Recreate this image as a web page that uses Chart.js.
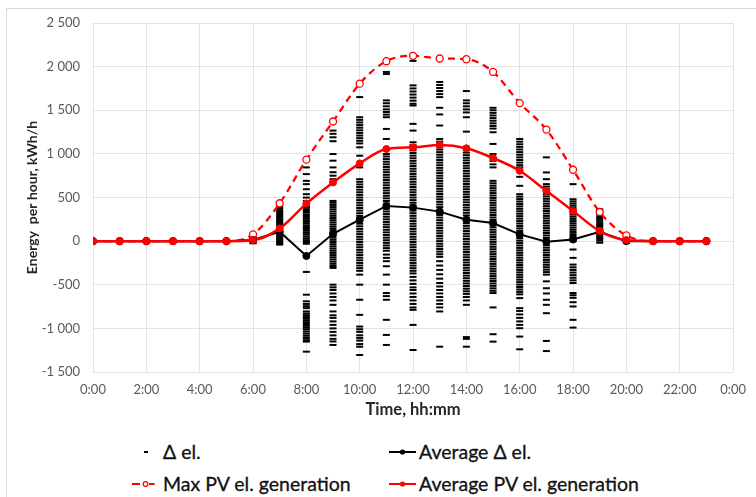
<!DOCTYPE html>
<html>
<head>
<meta charset="utf-8">
<script src="https://cdn.jsdelivr.net/npm/chart.js@4/dist/chart.umd.min.js"></script>
<style>
  html, body { margin:0; padding:0; background:#fff; overflow:hidden; }
  #wrap { position:relative; width:756px; height:497px; font-family:Lato, "Open Sans", sans-serif; }
  #frame { position:absolute; left:6px; top:8px; width:800px; height:600px; border:1px solid #d9d9d9; }
  #chart { position:absolute; left:0; top:0; }
  .lgtxt { position:absolute; height:24px; line-height:24px; font-size:19.5px; color:#111; white-space:nowrap; -webkit-text-stroke:0.3px #111; }
  .lgico { position:absolute; }
</style>
</head>
<body>
<div id="wrap">
  <div id="frame"></div>
  <canvas id="chart" width="756" height="425"></canvas>

  <svg class="lgico" style="left:140px;top:440px" width="12" height="24"><line x1="4" y1="12" x2="8" y2="12" stroke="#000" stroke-width="2"/></svg>
  <div class="lgtxt" style="left:163px;top:440px">Δ el.</div>

  <svg class="lgico" style="left:386px;top:440px" width="34" height="24"><line x1="3" y1="12" x2="30" y2="12" stroke="#000" stroke-width="2"/><circle cx="16.5" cy="12" r="2.6" fill="#000"/></svg>
  <div class="lgtxt" style="left:419px;top:440px">Average Δ el.</div>

  <svg class="lgico" style="left:128px;top:472px" width="30" height="24"><line x1="4" y1="12" x2="12" y2="12" stroke="#f00" stroke-width="2"/><circle cx="17.5" cy="12" r="2.3" fill="#fff" stroke="#f00" stroke-width="1.2"/><line x1="21" y1="12" x2="26.5" y2="12" stroke="#f00" stroke-width="2"/></svg>
  <div class="lgtxt" style="left:163px;top:472px">Max PV el. generation</div>

  <svg class="lgico" style="left:386px;top:472px" width="34" height="24"><line x1="3" y1="12" x2="30" y2="12" stroke="#f00" stroke-width="2"/><circle cx="16.5" cy="12" r="2.6" fill="#f00"/></svg>
  <div class="lgtxt" style="left:419px;top:472px">Average PV el. generation</div>
</div>
<script>
// hours of the day
const hours = [0,1,2,3,4,5,6,7,8,9,10,11,12,13,14,15,16,17,18,19,20,21,22,23];

const maxPV = [0,0,0,0,0,0, 78,434,934,1371,1805,2062,2124,2093,2085,1939,1582,1279,818,334,65, 0,0,0];
const avgPV = [0,0,0,0,0,0, 10,146,430,672,891,1056,1075,1102,1064,952,806,576,346,115,12, 0,0,0];
const avgDelta = [0,0,0,0,0,0, 12,108,-170,84,246,403,384,338,246,207,77,-8,19,108,0, 0,0,0];

// individual daily delta values, per hour
const d06 = [55,40,30,20,12,5,0,-8,-15,-25];
const d07 = [403,385,370,350,335,318,300,285,270,252,236,220,205,188,172,156,140,124,108,92,76,60,45,30,15,0,-15,-28,-40];
const d08 = [845,768,691,653,595,538,499,461,430,403,385,365,345,325,300,280,262,240,220,200,178,160,140,118,95,75,52,30,10,-10,-30,
  -353,-614,-690,-720,-745,-768,-806,-830,-850,-870,-890,-910,-930,-950,-970,-990,-1010,-1035,-1060,-1085,-1110,-1135,-1152,-1267];
const d09 = [1267,1230,1190,1145,998,922,845,790,750,710,680,
  461,440,415,390,365,340,315,290,265,240,215,190,165,140,115,90,65,40,15,-10,-35,-60,-85,-110,-135,-160,-185,-210,-235,-260,-285,-307,
  -499,-530,-560,-600,-640,-680,-730,-806,-850,-880,-920,-960,-1000,-1040,-1080,-1120,-1150,-1190];
const d10 = [1651,1420,1390,1360,1330,1300,1270,1240,1210,1180,1150,1120,1075,979,845,
  710,680,650,620,590,560,530,500,470,440,410,380,350,320,290,260,230,200,170,140,110,80,50,20,-10,-40,-70,-100,-130,-160,-190,-220,-250,-280,-310,-340,-384,
  -499,-672,-845,-979,-1010,-1040,-1080,-1110,-1140,-1180,-1210,-1305];
const d11 = [1939,1915,1613,1580,1545,1510,1480,1450,1420,1286,1171,1056,
  998,970,940,910,880,850,820,790,760,730,700,670,640,610,580,550,520,490,460,430,400,370,340,310,280,250,220,190,160,130,100,70,40,10,-20,-50,-80,-110,-154,
  -192,-230,-288,-384,-499,-595,-630,-672,-902,-1075,-1190];
const d12 = [2066,1785,1750,1715,1680,1645,1610,1575,1555,1344,1267,
  1133,1100,1070,1040,1010,980,950,920,890,860,830,800,770,740,710,680,650,620,590,560,530,500,470,440,410,380,350,320,290,260,230,200,170,140,110,80,50,20,
  -10,-40,-70,-100,-130,-160,-190,-220,-250,-280,-310,-340,-370,-410,-450,-490,-530,-560,-600,-640,-680,-720,-760,-787,-960,-1248];
const d13 = [1824,1790,1755,1720,1685,1651,1528,1452,1325,
  1171,1140,1110,1080,1050,1020,990,960,930,900,870,840,810,780,750,720,690,660,630,600,570,540,510,480,450,420,390,360,330,300,270,240,210,180,150,120,90,60,30,0,
  -30,-60,-90,-120,-150,-180,-230,-280,-330,-380,-430,-480,-520,-560,-600,-640,-680,-720,-760,-806,-1210];
const d14 = [1720,1613,1580,1545,1510,1475,1420,1255,
  1075,1045,1015,985,955,925,895,865,835,805,775,745,715,685,655,625,595,565,535,505,475,445,415,385,355,325,295,265,235,205,175,145,115,85,55,25,
  -5,-35,-65,-95,-125,-155,-185,-215,-245,-275,-305,-335,-365,-395,-425,-455,-485,-515,-545,-575,-605,-640,-680,-730,-1100,-1120,-1210];
const d15 = [1528,1500,1470,1440,1410,1380,1350,1320,1290,1248,1114,998,960,920,880,845,
  691,663,635,607,579,551,523,495,467,439,411,383,355,327,299,271,243,215,187,159,131,103,75,47,19,
  -9,-37,-65,-93,-121,-149,-177,-205,-233,-261,-289,-317,-345,-373,-401,-429,-457,-485,-513,-541,-569,-595,-760,-1067,-1152];
const d16 = [1171,1140,1110,1080,1050,1020,990,960,930,900,870,845,737,634,
  538,510,482,454,426,398,370,342,314,286,258,230,202,174,146,118,90,62,34,6,
  -22,-50,-78,-106,-134,-162,-190,-218,-246,-274,-302,-330,-358,-386,-414,-442,-470,-498,-526,-554,-582,-610,-653,
  -768,-800,-840,-880,-920,-960,-998,-1094,-1240];
const d17 = [960,787,710,
  653,625,597,569,541,513,485,457,429,401,373,345,317,289,261,233,205,177,149,121,93,65,37,9,
  -19,-47,-75,-103,-131,-159,-187,-215,-243,-271,-299,-327,-355,-384,-461,-540,-600,-672,-730,-826,-1144,-1260];
const d18 = [653,480,455,430,405,380,355,330,305,280,255,230,205,180,155,130,105,80,60,38,0,
  -96,-192,-269,-300,-330,-360,-390,-420,-450,-480,-595,-620,-650,-700,-749,-902,-991];
const d19 = [365,345,325,305,285,265,245,225,205,185,165,145,125,105,85,65,45,25,5,-19];
const d20 = [58,40,25,10,0,-10,-19];

const deltaByHour = [[6,d06],[7,d07],[8,d08],[9,d09],[10,d10],[11,d11],[12,d12],[13,d13],[14,d14],[15,d15],[16,d16],[17,d17],[18,d18],[19,d19],[20,d20]];

const xTicks = [0,2,4,6,8,10,12,14,16,18,20,22,24];

function pts(arr){
  return hours.map((h,i)=>({x:h, y:arr[i]}));
}
function deltaPoints(){
  const out = [];
  deltaByHour.forEach(([h,vals])=>{
    vals.forEach(v=> out.push({x:h, y:v}));
  });
  return out;
}
function fmtNum(v){
  return String(v).replace(/\B(?=(\d{3})+(?!\d))/g, " ");
}

const tickFont = {family:"Lato", size:13};
const gridColor = "#e3e3e3";

new Chart(document.getElementById("chart").getContext("2d"), {
  type: "line",
  data: {
    datasets: [
      {
        type: "scatter", label: "Δ el.", data: deltaPoints(), order: 4,
        pointStyle: "line", pointRadius: 3.5, pointBorderWidth: 2,
        borderColor: "#000", backgroundColor: "#000", showLine: false
      },
      {
        label: "Max PV el. generation", data: pts(maxPV), order: 3,
        borderColor: "#ff0000", borderWidth: 2.25, borderDash: [7,5],
        cubicInterpolationMode: "monotone",
        pointRadius: 3.5, pointBackgroundColor: "#fff", pointBorderColor: "#ff0000", pointBorderWidth: 1.3
      },
      {
        label: "Average Δ el.", data: pts(avgDelta), order: 2,
        borderColor: "#000", borderWidth: 2, tension: 0,
        pointRadius: 3.5, pointBackgroundColor: "#000", pointBorderColor: "#000", pointBorderWidth: 1
      },
      {
        label: "Average PV el. generation", data: pts(avgPV), order: 1,
        borderColor: "#ff0000", borderWidth: 2.5,
        cubicInterpolationMode: "monotone",
        pointRadius: 3.5, pointBackgroundColor: "#ff0000", pointBorderColor: "#ff0000", pointBorderWidth: 1
      }
    ]
  },
  options: {
    responsive: false,
    animation: false,
    layout: { padding: { top: 23, right: 18, left: 0, bottom: 0 } },
    plugins: { legend: { display: false }, tooltip: { enabled: false } },
    scales: {
      x: {
        type: "linear", min: 0, max: 24,
        afterBuildTicks: s => { s.ticks = xTicks.map(v=>({value:v})); },
        afterFit: s => { s.height = 53; },
        ticks: { callback: v => (v % 24) + ":00", color: "#595959", font: tickFont, padding: 10, maxRotation: 0, autoSkip: false },
        grid: { color: gridColor, drawTicks: false },
        border: { display: false },
        title: { display: true, text: "Time, hh:mm", color: "#262626", font: {family:"Lato", size:16.5, weight:"bold"}, padding: {top:0, bottom:5} }
      },
      y: {
        min: -1500, max: 2500,
        afterFit: s => { s.width = 93; },
        ticks: { stepSize: 500, callback: v => fmtNum(v), color: "#595959", font: tickFont, padding: 13 },
        grid: { color: gridColor, drawTicks: false },
        border: { display: false },
        title: { display: true, text: "Energy  per hour, kWh/h", color: "#262626", font: {family:"Lato", size:14, weight:"bold"}, padding: {top:24, bottom:0} }
      }
    }
  }
});
</script>
</body>
</html>
